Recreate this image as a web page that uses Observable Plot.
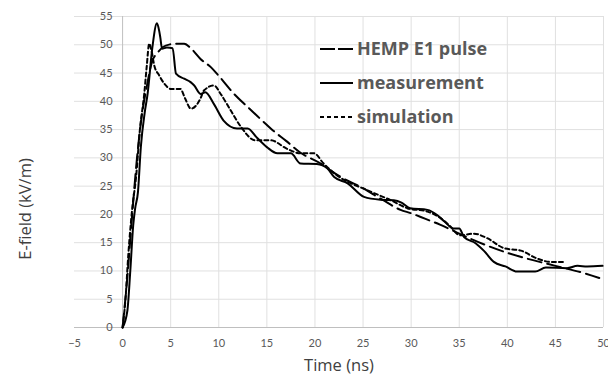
<!DOCTYPE html>
<html><head><meta charset="utf-8">
<script src="https://cdn.jsdelivr.net/npm/d3@7"></script>
<script src="https://cdn.jsdelivr.net/npm/@observablehq/plot@0.6"></script>
<style>body{margin:0;background:#fff;} #chart{position:relative;width:608px;height:376px;}</style>
</head><body><div id="chart"></div>
<script>
const seriesNames = ["HEMP E1 pulse", "measurement", "simulation"];

const e1Time  = [0,0.5,1,1.5,2,2.5,3.1,3.6,4.2,5,5.5,6.4,7.2,8.1,9.2,10,11.6,13,14,15.6,17,18.5,20.6,21.6,23,24.7,27,28.9,30,31.5,33,35,37,40,42,45,48,50];
const e1Value = [0,9,20,30,37.5,42.5,47.2,48.5,49.6,50.1,50.2,50.2,49.2,47.5,46,44.5,41.3,39,37.4,34.9,33,30.9,29,27.8,26.3,24.9,22.6,20.8,20.2,19.2,18.2,16.6,15.1,13.2,12.2,10.9,9.6,8.5];

const measTime  = [0,0.5,0.8,1.1,1.3,1.6,1.9,2.3,2.6,3.1,3.57,3.8,3.92,4.1,4.6,5.2,5.55,6.4,7.07,7.45,8.1,8.6,9.5,10.5,11.9,13,14,15,16.1,17.5,18.5,20.2,21.3,22,23.4,25.1,26.8,28.2,29,29.9,31.7,32.7,33.5,34.4,35,35.5,36.7,37.6,38.6,39.8,41,42.9,44,46.2,47.3,48.3,49.9];
const measValue = [0,3,10,18,21,24,32,38,41.3,49.6,53.8,52.5,51.3,49.3,49.5,49.4,44.9,44,43.4,42.8,41.3,41.6,39.5,36.6,35.2,35.2,33.5,31.9,30.8,30.8,29,28.9,28.1,26.6,25.5,23.1,22.6,22.5,22.1,21.1,20.8,19.9,18.7,17.5,17.5,16,14.9,13.5,11.6,10.8,9.9,9.9,10.6,10.5,10.9,10.8,10.9];

const simTime  = [0,0.3,0.6,1,1.4,1.8,2.25,2.5,2.77,3,3.3,3.8,4.4,5,6,6.5,7.1,8.1,8.45,9.5,10.2,11.2,12.3,13.8,15.4,17.1,18.5,19.9,20.9,22.3,25.4,27.9,29.6,31.7,33.1,34,35.1,36.5,37.9,39.7,41.4,43.1,44.5,46];
const simValue = [0,5,13,21,26.6,35,41.3,46,50.2,49,46.3,44.6,43,42.2,42.2,40.5,38.7,40.5,41.9,42.8,41.3,38.5,35.5,33.1,33.1,31.6,30.8,30.8,29,26.9,24.3,22.5,21.1,20.5,19.3,18,16.3,16.6,15.8,14,13.6,12.2,11.6,11.6];

const xTicks = [-5,0,5,10,15,20,25,30,35,40,45,50];
const yTicks = [0,5,10,15,20,25,30,35,40,45,50,55];
const xTitle = "Time (ns)";
const yTitle = "E-field (kV/m)";

const toRows = (ts, vs) => ts.map((t, i) => ({t, v: vs[i]}));
const e1 = toRows(e1Time, e1Value);
const meas = toRows(measTime, measValue);
const sim = toRows(simTime, simValue);

const styles = [
  {dash: "14,6"},
  {dash: null},
  {dash: "4,3"}
];

const font = "Lato, 'Open Sans', sans-serif";
const titleFont = "'Open Sans', Lato, sans-serif";

const plot = Plot.plot({
  width: 608, height: 376,
  marginLeft: 74, marginRight: 5, marginTop: 16, marginBottom: 49,
  x: {domain: [-5, 50]},
  y: {domain: [0, 55], axis: null},
  style: {fontFamily: font, fontSize: "11px", color: "#595959", background: "#fff"},
  marks: [
    Plot.ruleY(yTicks.filter(d => d > 0), {stroke: "#e0e0e0", strokeWidth: 1}),
    Plot.ruleX(xTicks.filter(d => d > 0), {y1: 0, y2: 55, stroke: "#e0e0e0", strokeWidth: 1}),
    Plot.ruleY([0], {stroke: "#bfbfbf", strokeWidth: 1}),
    Plot.ruleX([0], {y1: 0, y2: 55, stroke: "#bfbfbf", strokeWidth: 1}),
    Plot.text(yTicks, {x: 0, y: d => d, dx: -10, textAnchor: "end", fill: "#595959", fontSize: 11}),
    Plot.axisX(xTicks, {tickSize: 0, tickPadding: 12, label: null, fontSize: 11, fill: "#595959"}),
    Plot.line(e1, {x: "t", y: "v", stroke: "#000", strokeWidth: 2, strokeDasharray: styles[0].dash, curve: "monotone-x"}),
    Plot.line(meas, {x: "t", y: "v", stroke: "#000", strokeWidth: 2, curve: "monotone-x"}),
    Plot.line(sim, {x: "t", y: "v", stroke: "#000", strokeWidth: 2, strokeDasharray: styles[2].dash, curve: "monotone-x"})
  ]
});
document.getElementById("chart").appendChild(plot);

const svg = d3.select(plot);
// axis titles
svg.append("text").attr("x", 339).attr("y", 371).attr("text-anchor", "middle")
  .attr("font-family", titleFont).attr("font-size", 16.5).attr("fill", "#404040").text(xTitle);
svg.append("text").attr("transform", "translate(31,209) rotate(-90)").attr("text-anchor", "middle")
  .attr("font-family", titleFont).attr("font-size", 16.5).attr("fill", "#404040").text(yTitle);

// legend
const legY = [49, 83, 117];
seriesNames.forEach((name, i) => {
  const g = svg.append("g");
  g.append("line").attr("x1", 320).attr("x2", 353).attr("y1", legY[i]).attr("y2", legY[i])
    .attr("stroke", "#000").attr("stroke-width", 2)
    .attr("stroke-dasharray", i === 0 ? "15,3" : (styles[i].dash || null));
  g.append("text").attr("x", 357).attr("y", legY[i]).attr("dy", "0.35em")
    .attr("text-anchor", "start")
    .attr("font-family", titleFont).attr("font-weight", "bold").attr("font-size", 18)
    .attr("fill", "#595959").text(name);
});
</script>
</body></html>
